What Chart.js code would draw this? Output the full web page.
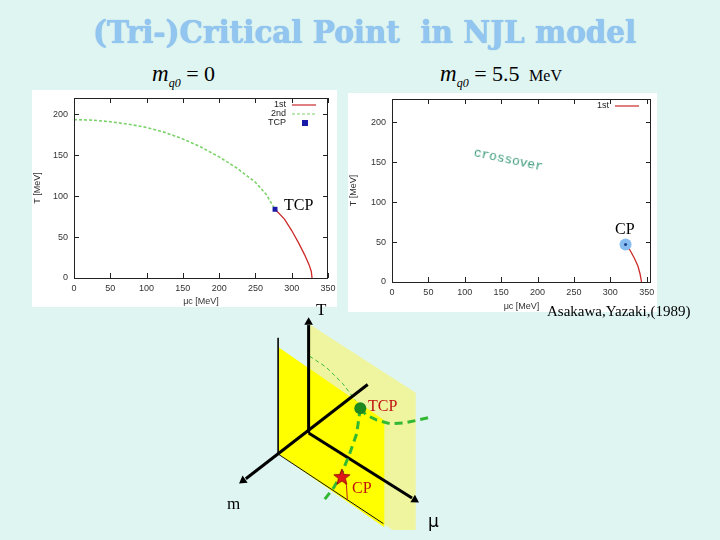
<!DOCTYPE html>
<html>
<head>
<meta charset="utf-8">
<script src="https://cdn.jsdelivr.net/npm/chart.js@4.4.1/dist/chart.umd.min.js"></script>
<style>
body { margin: 0; width: 720px; height: 540px; background: #dff5f2; position: relative; overflow: hidden; font-family: "Liberation Serif", serif; }
.box { position: absolute; background: #fff; }
.abs { position: absolute; }
.lbl { position: absolute; white-space: nowrap; line-height: 1; }
#title { left: 93px; top: 17px; font-family: "DejaVu Serif", serif; font-weight: bold; font-size: 31px; color: #92c6f0; transform-origin: 0 0; text-shadow: 0 0 1px #6fa8dc; }
.m { font-style: italic; font-size: 23px; }
.sub { font-size: 12px; font-style: italic; vertical-align: -6px; }
</style>
</head>
<body>
<div id="title" class="lbl">(Tri-)Critical Point&nbsp; in NJL model</div>
<div class="lbl" style="left:152px;top:62px;font-size:22px"><span class="m">m</span><span class="sub">q0</span> = 0</div>
<div class="lbl" style="left:440px;top:62px;font-size:22px"><span class="m">m</span><span class="sub">q0</span> = 5.5 <span style="font-size:16px">&nbsp;MeV</span></div>

<div class="box" style="left:32px;top:90px;width:305px;height:217px"><canvas id="leftChart" width="305" height="217"></canvas></div>
<div class="box" style="left:348px;top:93px;width:309px;height:219px"><canvas id="rightChart" width="309" height="219"></canvas></div>
<div class="abs" style="left:210px;top:305px;width:260px;height:235px"><canvas id="diagram" width="260" height="235"></canvas></div>

<div class="lbl" style="left:284px;top:197px;font-size:16px">TCP</div>
<div class="lbl" style="left:615px;top:221px;font-size:16px">CP</div>
<div class="lbl" style="left:474px;top:146px;font-family:'Liberation Mono',monospace;font-size:13px;color:#3a9a78;transform:rotate(12deg);transform-origin:0 50%">crossover</div>
<div class="lbl" style="left:547px;top:304px;font-size:15px">Asakawa,Yazaki,(1989)</div>
<div class="lbl" style="left:316px;top:301px;font-size:17px">T</div>
<div class="lbl" style="left:227px;top:495px;font-size:17px">m</div>
<div class="lbl" style="left:428px;top:513px;font-size:17px;font-family:'DejaVu Sans',sans-serif">μ</div>
<div class="lbl" style="left:368px;top:398px;font-size:16px;color:#c01010">TCP</div>
<div class="lbl" style="left:352px;top:480px;font-size:16px;color:#c01010">CP</div>

<script>
// phase diagram, m_q0 = 0 (left)
const muSecond = [0, 25, 50, 75, 100, 125, 150, 175, 200, 225, 250, 265, 277];
const tSecond = [193.5, 193, 191, 188, 184, 178, 170, 160, 148, 134, 117, 102, 84];
const muFirstLeft = [277, 290, 300, 310, 318, 324, 327, 328];
const tFirstLeft = [84, 72, 58, 42, 28, 16, 8, 0];
const tcp = [277, 84];

// phase diagram, m_q0 = 5.5 MeV (right)
const muFirstRight = [321, 327, 333, 338, 341, 343];
const tFirstRight = [47, 40, 30, 20, 10, 0];
const cp = [321, 47];

const muTicks = [0, 50, 100, 150, 200, 250, 300, 350];
const tTicks = [0, 50, 100, 150, 200];

const red = "#cc2a2a";
const green = "#7cd26a";

const pts = (xs, ys) => xs.map((x, i) => ({ x: x, y: ys[i] }));

// gnuplot style frame with inward ticks and a small key
const gnuFrame = {
    id: "gnuFrame",
    afterDraw(chart) {
        const ctx = chart.ctx;
        const a = chart.chartArea;
        const xs = chart.scales.x, ys = chart.scales.y;
        ctx.save();
        ctx.strokeStyle = "#222";
        ctx.lineWidth = 1;
        ctx.strokeRect(a.left + 0.5, a.top + 0.5, a.right - a.left - 1, a.bottom - a.top);
        ctx.beginPath();
        muTicks.forEach(v => {
            const px = Math.round(xs.getPixelForValue(v)) + 0.5;
            ctx.moveTo(px, a.bottom); ctx.lineTo(px, a.bottom - 5);
            ctx.moveTo(px, a.top); ctx.lineTo(px, a.top + 5);
        });
        tTicks.forEach(v => {
            const py = Math.round(ys.getPixelForValue(v)) + 0.5;
            ctx.moveTo(a.left, py); ctx.lineTo(a.left + 5, py);
            ctx.moveTo(a.right, py); ctx.lineTo(a.right - 5, py);
        });
        ctx.stroke();

        ctx.font = "9px 'Liberation Sans', sans-serif";
        ctx.textAlign = "right";
        ctx.textBaseline = "middle";
        const keyed = chart.data.datasets.filter(ds => ds.keyRow !== undefined)
            .sort((p, q) => p.keyRow - q.keyRow);
        keyed.forEach(ds => {
            const y = a.top + 7 + ds.keyRow * 9;
            ctx.fillStyle = "#222";
            ctx.fillText(ds.label, a.right - 42, y);
            if (ds.showLine) {
                ctx.strokeStyle = ds.borderColor;
                ctx.lineWidth = 1.2;
                ctx.setLineDash(ds.borderDash || []);
                ctx.beginPath();
                ctx.moveTo(a.right - 36, y); ctx.lineTo(a.right - 12, y);
                ctx.stroke();
                ctx.setLineDash([]);
            } else {
                ctx.fillStyle = ds.backgroundColor;
                ctx.fillRect(a.right - 26, y - 3, 6, 6);
            }
        });
        ctx.restore();
    }
};

function phaseOptions(xMax, yMax, yWidth, xHeight, pad) {
    const tickFont = { family: "'Liberation Sans', sans-serif", size: 9 };
    return {
        responsive: false,
        animation: false,
        layout: { padding: pad },
        plugins: { legend: { display: false }, tooltip: { enabled: false } },
        scales: {
            x: {
                type: "linear", min: 0, max: xMax,
                afterBuildTicks: s => { s.ticks = muTicks.map(v => ({ value: v })); },
                afterFit: s => { s.height = xHeight; s.paddingLeft = 0; s.paddingRight = 0; },
                grid: { display: false, drawTicks: false }, border: { display: false },
                ticks: { font: tickFont, color: "#333", padding: 5, maxRotation: 0 },
                title: { display: true, text: "μc [MeV]", font: tickFont, color: "#333", padding: { top: 3, bottom: 0 } }
            },
            y: {
                type: "linear", min: 0, max: yMax,
                afterBuildTicks: s => { s.ticks = tTicks.map(v => ({ value: v })); },
                afterFit: s => { s.width = yWidth; s.paddingTop = 0; s.paddingBottom = 0; },
                grid: { display: false, drawTicks: false }, border: { display: false },
                ticks: { font: tickFont, color: "#333", padding: 6 },
                title: { display: true, text: "T [MeV]", font: tickFont, color: "#333", padding: 0 }
            }
        }
    };
}

new Chart(document.getElementById("leftChart").getContext("2d"), {
    type: "scatter",
    data: {
        datasets: [
            { label: "TCP", keyRow: 2, data: [{ x: tcp[0], y: tcp[1] }], pointStyle: "rect", pointRadius: 3.5, backgroundColor: "#1a1aa8", borderWidth: 0 },
            { label: "1st", keyRow: 0, data: pts(muFirstLeft, tFirstLeft), showLine: true, pointRadius: 0, borderColor: red, borderWidth: 1.3 },
            { label: "2nd", keyRow: 1, data: pts(muSecond, tSecond), showLine: true, pointRadius: 0, borderColor: green, borderWidth: 1.6, borderDash: [3, 2] }
        ]
    },
    options: phaseOptions(350, 220, 42, 29, { top: 8, right: 9, left: 0, bottom: 0 }),
    plugins: [gnuFrame]
});

new Chart(document.getElementById("rightChart").getContext("2d"), {
    type: "scatter",
    data: {
        datasets: [
            { data: [{ x: cp[0], y: cp[1] }], pointRadius: 1.5, backgroundColor: "#1c3c8c", borderWidth: 0 },
            { data: [{ x: cp[0], y: cp[1] }], pointRadius: 6, backgroundColor: "#86bcee", borderWidth: 0 },
            { label: "1st", keyRow: 0, data: pts(muFirstRight, tFirstRight), showLine: true, pointRadius: 0, borderColor: red, borderWidth: 1.3 }
        ]
    },
    options: phaseOptions(356, 229, 44, 30, { top: 4, right: 4, left: 0, bottom: 0 }),
    plugins: [gnuFrame]
});

// 3D sketch (m, T, mu) in page pixel coordinates
const palePlane = [[307, 315], [422, 390], [422, 540], [397, 540], [307, 479], [307, 315]];
const yellowPlane = [[273, 340], [388, 420], [388, 537], [273, 457], [273, 340]];
const planeEdge = [[273, 330], [273, 457], [387, 533]];
const axisT = [[306, 434], [306, 316]];
const axisM = [[370, 381], [238, 484]];
const axisMu = [[306, 434], [418, 505]];
const thinGreen = [[307, 350], [325, 362], [343, 380], [355, 396], [362, 407]];
const crossRight = [[362, 407], [368, 414], [380, 420], [395, 424], [410, 423], [437, 417]];
const crossDown = [[362, 407], [358, 435], [350, 458], [341, 480], [333, 494], [323, 507]];
const firstTcp = [[362, 407], [370, 422], [376, 440], [379, 460], [379.5, 477]];
const firstCp = [[342, 481], [347, 491], [348, 507]];
const arrowHeads = [[306, 313, 0], [235, 486, 234], [421, 507, 122]];
const tcpDot = [362, 407];
const cpStar = [342, 482];

const xy = arr => arr.map(p => ({ x: p[0], y: p[1] }));

const star = document.createElement("canvas");
star.width = 18; star.height = 18;
(function () {
    const c = star.getContext("2d");
    c.beginPath();
    for (let i = 0; i < 10; i++) {
        const r = i % 2 ? 3.6 : 8.5;
        const a = -Math.PI / 2 + i * Math.PI / 5;
        c.lineTo(9 + r * Math.cos(a), 9.5 + r * Math.sin(a));
    }
    c.closePath();
    c.fillStyle = "#e01818";
    c.fill();
    c.strokeStyle = "#8a0000";
    c.lineWidth = 0.8;
    c.stroke();
})();

const line = (d, color, width, dash) => ({ data: xy(d), showLine: true, pointRadius: 0, borderColor: color, borderWidth: width, borderDash: dash || [] });
const layers = [
    { data: xy(palePlane), showLine: true, pointRadius: 0, borderWidth: 0, borderColor: "rgba(0,0,0,0)", backgroundColor: "#eff59e", fill: "shape" },
    line(thinGreen, "#3dbb3d", 1, [4, 3]),
    line(firstTcp, "#c02020", 1),
    { data: xy(yellowPlane), showLine: true, pointRadius: 0, borderWidth: 0, borderColor: "rgba(0,0,0,0)", backgroundColor: "#ffff00", fill: "shape" },
    line(planeEdge, "#111", 1),
    line(axisT, "#000", 3),
    line(axisM, "#000", 3),
    line(axisMu, "#000", 3),
    { data: arrowHeads.map(p => ({ x: p[0], y: p[1] })), pointStyle: "triangle", pointRadius: 5, pointRotation: arrowHeads.map(p => p[2]), backgroundColor: "#000", borderWidth: 0 },
    line(firstCp, "#c02020", 1),
    line(crossRight, "#33b833", 3, [8, 5]),
    line(crossDown, "#33b833", 3, [8, 5]),
    { data: [{ x: tcpDot[0], y: tcpDot[1] }], pointRadius: 6, backgroundColor: "#1e8a1e", borderWidth: 0 },
    { data: [{ x: cpStar[0], y: cpStar[1] }], pointStyle: star, pointRadius: 9 }
];
layers.forEach((ds, i) => { ds.order = layers.length - i; });

new Chart(document.getElementById("diagram").getContext("2d"), {
    type: "scatter",
    data: { datasets: layers },
    options: {
        responsive: false,
        animation: false,
        layout: { padding: 0 },
        plugins: { legend: { display: false }, tooltip: { enabled: false } },
        scales: {
            x: { type: "linear", min: 210, max: 470, display: false },
            y: { type: "linear", min: 305, max: 540, reverse: true, display: false }
        }
    }
});

// fit title to its width on the slide
const title = document.getElementById("title");
title.style.transform = "scaleX(" + (543 / title.offsetWidth) + ")";
</script>
</body>
</html>
